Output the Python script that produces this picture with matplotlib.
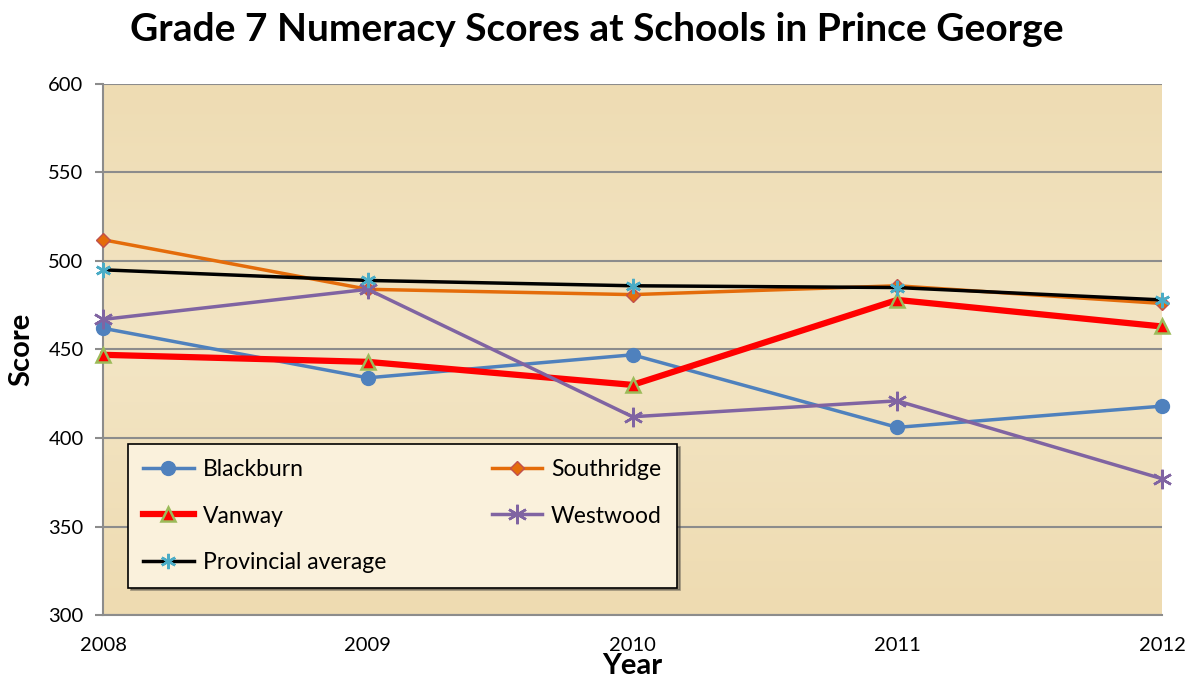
import numpy as np
import matplotlib.pyplot as plt
import matplotlib as mpl

plt.rcParams['font.family'] = ['Lato', 'DejaVu Sans']

years = [2008, 2009, 2010, 2011, 2012]
blackburn = [462, 434, 447, 406, 418]
southridge = [512, 484, 481, 486, 476]
vanway = [447, 443, 430, 478, 463]
westwood = [467, 484, 412, 421, 377]
provincial = [495, 489, 486, 485, 478]

fig = plt.figure(figsize=(11.94, 6.81), dpi=100)
ax = fig.add_axes([0.0863, 0.0969, 0.8869, 0.7798])

# parchment-like background
grad = np.linspace(0, 1, 256).reshape(-1, 1)
cmap = mpl.colors.LinearSegmentedColormap.from_list('parch', ['#EEDCB3', '#F3E5C4', '#EEDBB1'])
ax.imshow(grad, extent=[2008, 2012, 300, 600], aspect='auto', cmap=cmap, zorder=0)

ax.set_xlim(2008, 2012)
ax.set_ylim(300, 600)
ax.set_yticks(np.arange(300, 601, 50))
ax.set_xticks(years)
ax.grid(axis='y', color='#8C8C8C', linewidth=1.5, zorder=1)
for s in ['top', 'right']:
    ax.spines[s].set_visible(False)
for s in ['left', 'bottom']:
    ax.spines[s].set_color('#8C8C8C')
    ax.spines[s].set_linewidth(1.5)
ax.tick_params(axis='y', length=6, color='#8C8C8C', width=1.5, labelsize=14.5, pad=8)
ax.tick_params(axis='x', length=0, labelsize=14.5, pad=16)

l1, = ax.plot(years, blackburn, color='#4F81BD', lw=2.5, marker='o', ms=10, label='Blackburn', zorder=3)
l2, = ax.plot(years, southridge, color='#E46C0A', lw=2.5, marker='D', ms=7, mfc='#E46C0A',
              mec='#C0504D', label='Southridge', zorder=3)
l3, = ax.plot(years, vanway, color='#FF0000', lw=4.5, marker='^', ms=10, mfc='#FF0000',
              mec='#9BBB59', mew=1.8, label='Vanway', zorder=3)
l4, = ax.plot(years, westwood, color='#8064A2', lw=2.5, marker=(6, 2, 0), ms=14, mew=1.8,
              label='Westwood', zorder=3)
l5, = ax.plot(years, provincial, color='black', lw=2.5, marker=(6, 2, 0), ms=11, mec='#4BACC6',
              mew=1.8, label='Provincial average', zorder=4)

for c in ax.lines:
    c.set_clip_on(False)

ax.set_ylabel('Score', fontsize=21, fontweight='bold', labelpad=10)
ax.set_xlabel('Year', fontsize=21, fontweight='bold', labelpad=-1)
fig.suptitle('Grade 7 Numeracy Scores at Schools in Prince George', fontsize=28,
             fontweight='bold', x=0.5, y=0.982)

# Excel fills the legend row by row, matplotlib column by column
handles = [l1, l3, l5, l2, l4]
leg = ax.legend(handles=handles, labels=[h.get_label() for h in handles],
                loc='lower left', bbox_to_anchor=(0.013, 0.03), ncol=2, fontsize=16.5,
                frameon=True, fancybox=False, shadow=True, edgecolor='black',
                facecolor='#FAF1DC', framealpha=1, columnspacing=4.6, labelspacing=1.1,
                handlelength=2.2, handletextpad=0.4, borderpad=0.65)
leg.get_frame().set_linewidth(1.2)

fig.savefig('out.png', dpi=100)
